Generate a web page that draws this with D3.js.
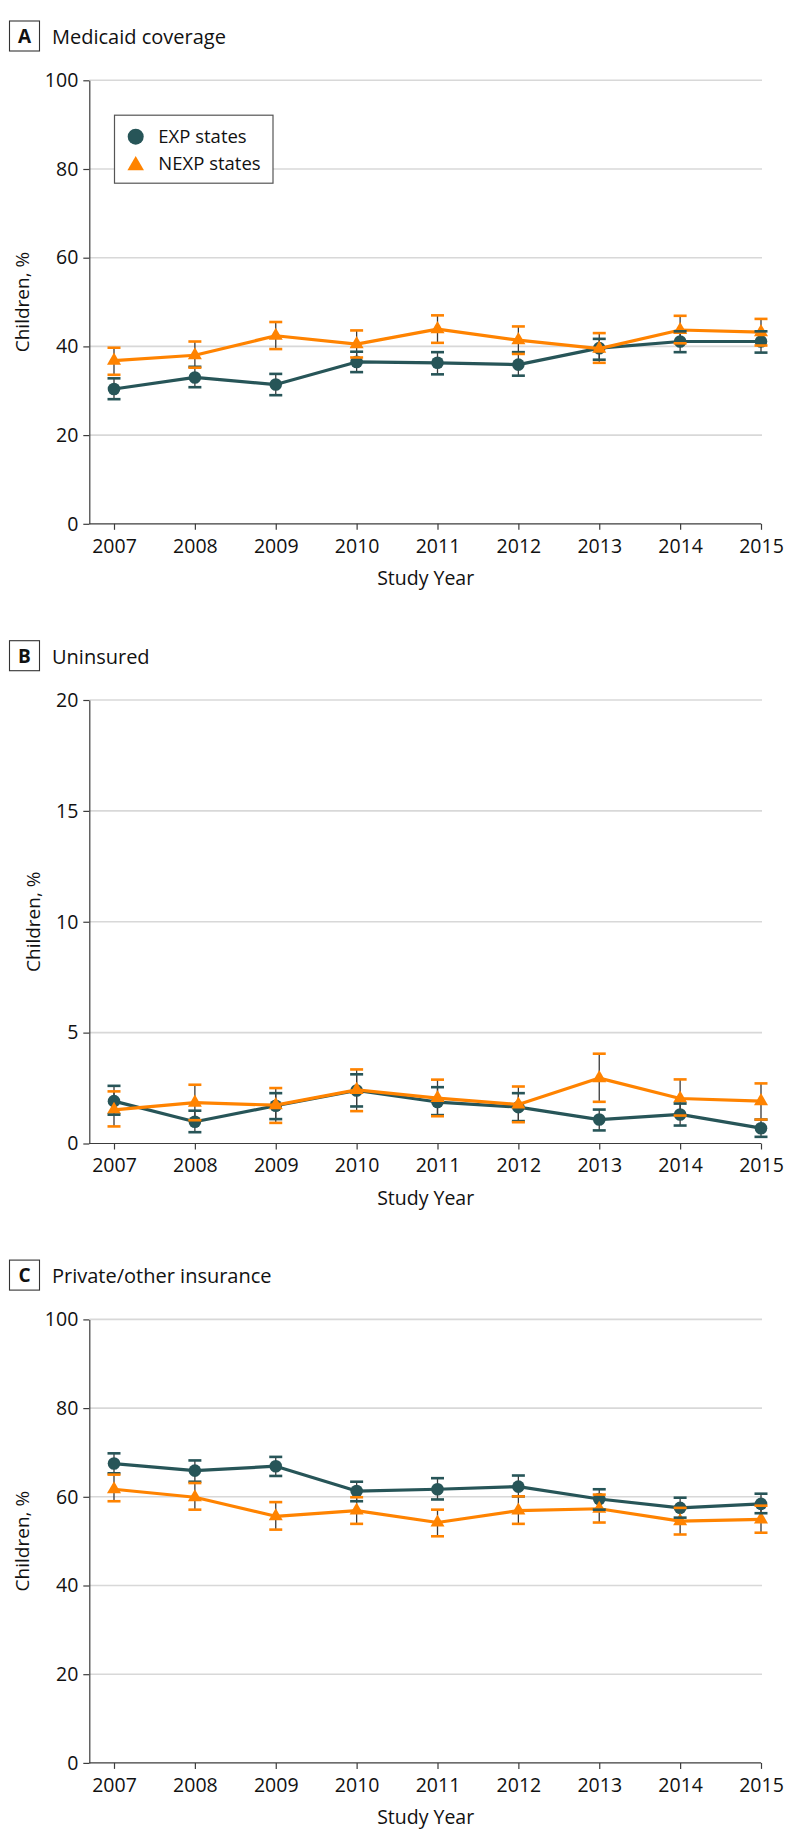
<!DOCTYPE html>
<html><head><meta charset="utf-8">
<script src="https://cdn.jsdelivr.net/npm/d3@7"></script>
<style>body{margin:0;background:#fff} svg{display:block}</style>
</head><body>
<svg id="chart" width="794" height="1847"></svg>
<script>
// ---------- data ----------
const years = [2007, 2008, 2009, 2010, 2011, 2012, 2013, 2014, 2015];
const seriesNames = ["EXP states", "NEXP states"];

// Panel A: Medicaid coverage
const expA    = [30.4, 33.0, 31.4, 36.5, 36.3, 35.9, 39.6, 41.1, 41.1];
const expALo  = [28.1, 30.8, 29.0, 34.2, 33.7, 33.4, 37.0, 38.7, 38.6];
const expAHi  = [32.8, 35.4, 33.8, 38.8, 38.7, 38.7, 41.7, 43.4, 43.4];
const nexpA   = [36.8, 38.0, 42.4, 40.5, 43.9, 41.4, 39.5, 43.7, 43.2];
const nexpALo = [33.6, 35.2, 39.4, 37.5, 40.8, 38.3, 36.3, 40.7, 40.2];
const nexpAHi = [39.7, 41.1, 45.5, 43.6, 47.0, 44.5, 43.0, 46.9, 46.2];

// Panel B: Uninsured
const expB    = [1.91, 0.98, 1.70, 2.39, 1.87, 1.64, 1.08, 1.31, 0.69];
const expBLo  = [1.30, 0.51, 1.10, 1.67, 1.28, 1.01, 0.59, 0.81, 0.30];
const expBHi  = [2.60, 1.48, 2.27, 3.12, 2.54, 2.27, 1.53, 1.80, 1.08];
const nexpB   = [1.52, 1.84, 1.73, 2.42, 2.05, 1.76, 2.95, 2.03, 1.91];
const nexpBLo = [0.77, 1.05, 0.93, 1.46, 1.23, 0.96, 1.88, 1.26, 1.08];
const nexpBHi = [2.35, 2.65, 2.50, 3.34, 2.88, 2.57, 4.05, 2.89, 2.71];

// Panel C: Private/other insurance
const expC    = [67.5, 65.9, 66.9, 61.3, 61.7, 62.3, 59.5, 57.5, 58.4];
const expCLo  = [65.3, 63.4, 64.7, 59.0, 59.4, 60.1, 57.1, 55.3, 56.3];
const expCHi  = [69.8, 68.2, 69.0, 63.4, 64.2, 64.8, 61.7, 59.8, 60.7];
const nexpC   = [61.7, 59.9, 55.6, 56.9, 54.2, 56.9, 57.3, 54.5, 54.9];
const nexpCLo = [59.0, 57.1, 52.6, 53.9, 51.1, 53.9, 54.2, 51.5, 51.9];
const nexpCHi = [65.0, 63.1, 58.8, 59.9, 57.1, 60.1, 60.5, 57.5, 58.0];

const ticksPct = [0, 20, 40, 60, 80, 100];
const ticksUnins = [0, 5, 10, 15, 20];

// ---------- layout / style ----------
const FONT = "'Open Sans', sans-serif";
const COL_EXP = "#275558";
const COL_NEXP = "#ff8300";
const GRID = "#d8d8d8";
const AXIS = "#3c3c3c";
const plotH = 443.5, plotLeft = 89.3, plotRight = 762;

const panels = [
  {letter: "A", title: "Medicaid coverage", top: 80.3, max: 100, ticks: ticksPct,
   s: [[expA, expALo, expAHi], [nexpA, nexpALo, nexpAHi]], legend: true},
  {letter: "B", title: "Uninsured", top: 700, max: 20, ticks: ticksUnins,
   s: [[expB, expBLo, expBHi], [nexpB, nexpBLo, nexpBHi]], legend: false},
  {letter: "C", title: "Private/other insurance", top: 1319.4, max: 100, ticks: ticksPct,
   s: [[expC, expCLo, expCHi], [nexpC, nexpCLo, nexpCHi]], legend: false}
];

const svg = d3.select("#chart");
const x = d3.scaleLinear().domain([2007, 2015]).range([114, 761]);
const colors = [COL_EXP, COL_NEXP];
const triSym = d3.symbol().type(d3.symbolTriangle);

panels.forEach(p => {
  const g = svg.append("g");
  const bottom = p.top + plotH;
  const y = d3.scaleLinear().domain([0, p.max]).range([bottom, p.top]);

  // panel label box + title
  const by = p.top - 59.3;
  g.append("rect").attr("x", 9.5).attr("y", by).attr("width", 30).attr("height", 30)
    .attr("fill", "#fff").attr("stroke", "#333").attr("stroke-width", 1.1);
  g.append("text").attr("x", 24.5).attr("y", by + 22).attr("text-anchor", "middle")
    .attr("font-family", FONT).attr("font-weight", 700).attr("font-size", 19)
    .attr("fill", "#111").text(p.letter);
  g.append("text").attr("x", 52).attr("y", by + 23).attr("font-family", FONT)
    .attr("font-size", 20).attr("fill", "#111").text(p.title);

  // gridlines
  g.append("g").selectAll("line").data(p.ticks.filter(t => t > 0)).join("line")
    .attr("x1", plotLeft).attr("x2", plotRight)
    .attr("y1", d => y(d)).attr("y2", d => y(d))
    .attr("stroke", GRID).attr("stroke-width", 1.6);

  // y axis
  const ya = g.append("g").attr("transform", `translate(${plotLeft},0)`)
    .call(d3.axisLeft(y).tickValues(p.ticks).tickSize(6).tickSizeOuter(0).tickPadding(5));
  ya.select(".domain").attr("stroke", AXIS).attr("stroke-width", 1.2);
  ya.selectAll(".tick line").attr("stroke", AXIS).attr("stroke-width", 1.2);
  ya.selectAll("text").attr("font-family", FONT).attr("font-size", 19.5).attr("fill", "#111");

  // x axis
  const xa = g.append("g").attr("transform", `translate(0,${bottom})`)
    .call(d3.axisBottom(x).tickValues(years).tickFormat(d3.format("d"))
      .tickSize(6).tickSizeOuter(0).tickPadding(9));
  xa.select(".domain").remove();
  xa.selectAll(".tick line").attr("stroke", AXIS).attr("stroke-width", 1.2);
  xa.selectAll("text").attr("font-family", FONT).attr("font-size", 19.5).attr("fill", "#111");
  g.append("line").attr("x1", plotLeft).attr("x2", x(2015))
    .attr("y1", bottom).attr("y2", bottom).attr("stroke", AXIS).attr("stroke-width", 1.2);

  // axis titles
  g.append("text").attr("x", (plotLeft + plotRight) / 2).attr("y", bottom + 61)
    .attr("text-anchor", "middle").attr("font-family", FONT).attr("font-size", 19.5)
    .attr("fill", "#111").text("Study Year");
  let minX = Infinity;
  ya.selectAll("text").each(function () {
    const b = this.getBBox();
    const m = this.getCTM();
    minX = Math.min(minX, m.e + b.x);
  });
  g.append("text")
    .attr("transform", `translate(${minX - 16},${(p.top + bottom) / 2}) rotate(-90)`)
    .attr("text-anchor", "middle").attr("font-family", FONT).attr("font-size", 19)
    .attr("fill", "#111").text("Children, %");

  // error bar stems
  p.s.forEach((s, si) => {
    g.append("g").selectAll("line").data(years).join("line")
      .attr("x1", d => x(d)).attr("x2", d => x(d))
      .attr("y1", (d, i) => y(s[1][i])).attr("y2", (d, i) => y(s[2][i]))
      .attr("stroke", "#3a3a3a").attr("stroke-width", 1.3);
  });

  // lines and markers
  const line = d3.line().x((d, i) => x(years[i])).y(d => y(d));
  p.s.forEach((s, si) => {
    g.append("path").datum(s[0]).attr("d", line).attr("fill", "none")
      .attr("stroke", colors[si]).attr("stroke-width", 3.2).attr("stroke-linejoin", "round");
    if (si === 0) {
      g.append("g").selectAll("circle").data(s[0]).join("circle")
        .attr("cx", (d, i) => x(years[i])).attr("cy", d => y(d)).attr("r", 6.3)
        .attr("fill", colors[si]);
    } else {
      g.append("g").selectAll("path").data(s[0]).join("path")
        .attr("d", triSym.size(85)())
        .attr("transform", (d, i) => `translate(${x(years[i])},${y(d)})`)
        .attr("fill", colors[si]);
    }
  });

  // caps
  p.s.forEach((s, si) => {
    const caps = [];
    years.forEach((yr, i) => { caps.push([yr, s[1][i]]); caps.push([yr, s[2][i]]); });
    g.append("g").selectAll("line").data(caps).join("line")
      .attr("x1", d => x(d[0]) - 6.5).attr("x2", d => x(d[0]) + 6.5)
      .attr("y1", d => y(d[1])).attr("y2", d => y(d[1]))
      .attr("stroke", colors[si]).attr("stroke-width", 2.6);
  });

  // legend
  if (p.legend) {
    const lg = g.append("g");
    lg.append("rect").attr("x", 114.5).attr("y", 115.2).attr("width", 158.5).attr("height", 68)
      .attr("fill", "#fff").attr("stroke", "#555").attr("stroke-width", 1.2);
    lg.append("circle").attr("cx", 135.7).attr("cy", 136.7).attr("r", 8).attr("fill", COL_EXP);
    lg.append("path").attr("d", d3.symbol().type(d3.symbolTriangle).size(118)())
      .attr("transform", "translate(135.7,165.5)").attr("fill", COL_NEXP);
    lg.selectAll("text.lab").data(seriesNames).join("text").attr("class", "lab")
      .attr("x", 158.3).attr("y", (d, i) => 143.3 + i * 27)
      .attr("font-family", FONT).attr("font-size", 18.5).attr("fill", "#111").text(d => d);
  }
});
</script>
</body></html>
